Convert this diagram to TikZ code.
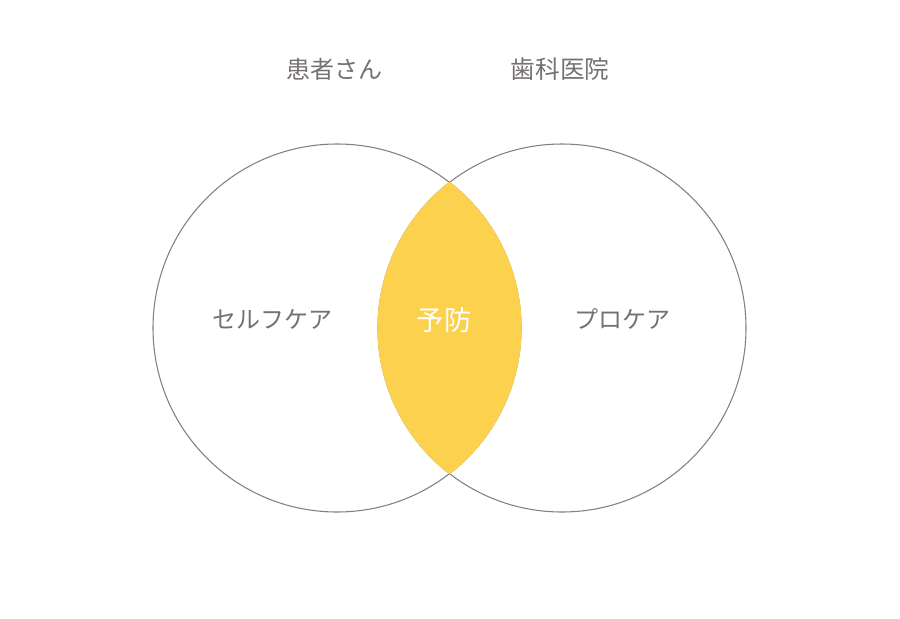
\documentclass[tikz,border=0pt]{standalone}
\usepackage{fontspec}
\setmainfont{Noto Sans CJK JP}
\definecolor{textgray}{HTML}{767171}
\definecolor{ringgray}{HTML}{808080}
\definecolor{lensyellow}{HTML}{FBD14E}
\newcommand{\lbl}{\fontsize{18pt}{20pt}\selectfont}

\begin{document}
\begin{tikzpicture}[x=0.75pt,y=-0.75pt]
   \useasboundingbox (0,0) rectangle (900,618);
   \draw[ringgray,line width=0.8pt] (337,328) circle(184);
   \draw[ringgray,line width=0.8pt] (562,328) circle(184);
   % intersection, over the rings
   \begin{scope}
      \clip (337,328) circle(184.6);
      \fill[lensyellow] (562,328) circle(184.6);
   \end{scope}
   \node[textgray] (patient) at (334,69) {\lbl 患者さん};
   \node[textgray] (clinic)  at (560,69) {\fontsize{18.5pt}{20pt}\selectfont 歯科医院};
   \node[textgray] (self)    at (272,319) {\lbl セルフケア};
   \node[white]    (prev)    at (444,320) {\fontsize{20.5pt}{22pt}\selectfont 予防};
   \node[textgray] (pro)     at (622,319) {\lbl プロケア};
\end{tikzpicture}
\end{document}
